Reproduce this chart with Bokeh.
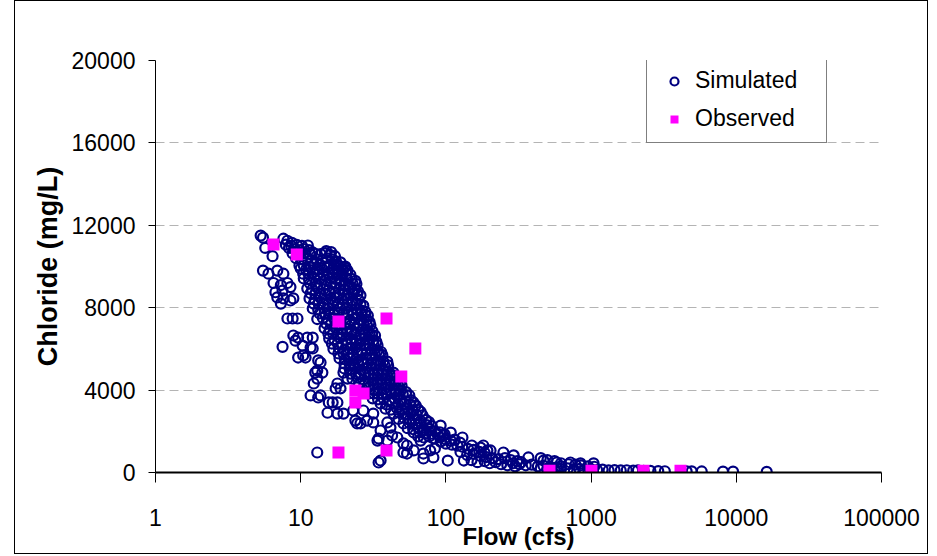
from bokeh.plotting import figure
from bokeh.models import FixedTicker, NumeralTickFormatter, Range1d, Legend, LegendItem
from bokeh.embed import file_html
from bokeh.resources import INLINE

# ---------------- data ----------------
x_ticks = [1, 10, 100, 1000, 10000, 100000]
y_ticks = [0, 4000, 8000, 12000, 16000, 20000]

# Simulated: lower / left branch
sim_flow_a = [5.3, 5.5, 5.7, 6.4, 5.5, 6.0, 6.9, 7.6, 6.5, 7.3, 8.1, 8.5, 6.7, 7.5, 6.9, 7.6, 8.5, 8.9,
              7.3, 8.1, 8.8, 9.5, 8.9, 9.6, 11.1, 12.1, 7.5, 9.2, 10.3, 11.7, 9.6, 10.8, 13.7, 13.0,
              14.1, 12.3, 17.9, 11.7, 13.7, 16.6, 15.3, 17.9, 19.7, 13.0, 35.5, 10.4, 12.1, 13.2, 12.6,
              13.0, 13.2, 15.6]
sim_cl_a = [11500, 11400, 10900, 10500, 9800, 9650, 9800, 9650, 9200, 9100, 9200, 9000, 8750, 8830,
            8500, 8450, 8350, 8450, 8200, 7475, 7475, 7475, 6650, 6550, 6550, 6550, 6100, 6400, 6160,
            6070, 5580, 5580, 5340, 4950, 4850, 4320, 4320, 3740, 3740, 3400, 2900, 2860, 2860, 970,
            580, 5680, 6020, 5440, 4850, 4560, 3640, 3400]

# Simulated: scattered points below the main band
sim_flow_b = [18.8, 17.9, 23.8, 25.8, 28.7, 31.6, 35.5, 34.4, 41.5, 39.5, 46.3, 51, 54, 60, 67, 70, 78,
              82, 17.4, 19.7, 22, 21, 24.5, 27, 23, 31.6, 39.5, 42.6, 33.8, 34.4, 51, 54, 70, 84, 103,
              133, 82]
sim_cl_b = [4080, 3400, 2520, 2380, 2520, 2430, 2040, 1650, 2180, 1550, 1700, 1410, 920, 1070, 1550,
            920, 1070, 730, 4080, 4850, 5190, 4560, 2380, 3010, 3010, 2860, 2430, 1800, 1550, 485,
            970, 1310, 680, 1165, 580, 580, 1650]

# Simulated: dense main band
sim_flow_c = [7.6, 8.1, 8.7,
              8.3, 9.0, 9.7, 10.5, 11.4, 12.0, 15, 16.2,
              9.3, 10.1, 11, 11.9, 12.9, 14, 15.2, 16.5, 17.5,
              10, 10.9, 11.8, 12.9, 14, 15.2, 16.5, 18, 19.5, 21,
              10.5, 11.4, 12.4, 13.5, 14.7, 16, 17.4, 19, 20.6, 22.4, 23.8,
              11.1, 12, 13.1, 14.3, 15.6, 17, 18.5, 20.1, 21.9, 23.8, 24.8,
              11.5, 12.5, 13.7, 14.9, 16.2, 17.7, 19.3, 21, 22.9, 25,
              12.1, 13.2, 14.4, 15.7, 17.1, 18.7, 20.4, 22.2, 24.2, 26.5, 27.9,
              13, 14.2, 15.5, 16.9, 18.4, 20, 21.8, 23.8, 26, 28.5, 29.8,
              14.6, 15.9, 17.3, 18.9, 20.6, 22.5, 24.5, 26.7, 29.1, 31.2,
              15.7, 17.1, 18.7, 20.4, 22.2, 24.2, 26.4, 28.8, 31.4, 33.2,
              16.8, 18.3, 20, 21.8, 23.8, 26, 28.3, 30.9, 33.7, 35.8,
              18.5, 20.2, 22, 24, 26.2, 28.6, 31.2, 34, 37, 39.5,
              20.0, 21.8, 23.8, 26, 28.4, 31, 33.8, 36.9, 40.3, 43.5,
              22.7, 24.8, 27, 29.5, 32.2, 35.1, 38.3, 41.8, 45.6, 48.7,
              26.6, 29, 31.6, 34.5, 37.6, 41, 44.7, 48.7, 53.2,
              31.3, 34.1, 37.2, 40.6, 44.3, 48.3, 52.7, 57.5, 59.8,
              38.4, 41.9, 45.7, 49.8, 54.3, 59.2, 64.6, 67,
              47.2, 51.5, 56.2, 61.3, 66.9, 73, 76.5,
              54.5, 59.5, 64.9, 70.8, 77.3, 84.3, 91,
              64.5, 70.4, 76.8, 83.8, 91.4, 99.7, 108]
sim_cl_c = [11350, 11250, 11150,
            10900, 10850, 10800, 10850, 10800, 10700, 10750, 10700,
            10400, 10350, 10400, 10300, 10350, 10300, 10400, 10350, 10250,
            9900, 9850, 9950, 9850, 9900, 9950, 9850, 9900, 9850, 9800,
            9420, 9380, 9450, 9400, 9350, 9450, 9400, 9350, 9450, 9400, 9300,
            8930, 8880, 8950, 8900, 8850, 8950, 8900, 8850, 8950, 8900, 8800,
            8450, 8400, 8480, 8400, 8450, 8500, 8400, 8450, 8350, 8400,
            7960, 7900, 8000, 7950, 7900, 8000, 7950, 7900, 7950, 7850, 7800,
            7450, 7500, 7400, 7480, 7420, 7500, 7400, 7450, 7380, 7420, 7300,
            7000, 6950, 7020, 6950, 7000, 6900, 7000, 6950, 6880, 6850,
            6500, 6450, 6550, 6450, 6500, 6420, 6500, 6450, 6400, 6350,
            6000, 6050, 5950, 6000, 6050, 5950, 6000, 5950, 5900, 5850,
            5550, 5500, 5550, 5500, 5450, 5500, 5550, 5450, 5400, 5380,
            5050, 5000, 5100, 5000, 5050, 5000, 4950, 5000, 4900, 4850,
            4550, 4600, 4500, 4600, 4550, 4500, 4550, 4450, 4450, 4400,
            4050, 4100, 4000, 4100, 4050, 4000, 3950, 4000, 3900,
            3600, 3550, 3600, 3500, 3600, 3500, 3450, 3500, 3400,
            3100, 3050, 3150, 3050, 3100, 3000, 3050, 2950,
            2600, 2650, 2550, 2600, 2500, 2550, 2450,
            2150, 2100, 2150, 2050, 2100, 2000, 1950,
            1750, 1700, 1750, 1650, 1700, 1600, 1550]

# Simulated: in-between points of the dense band
sim_flow_d = [10.5, 12.4, 14.6, 17, 19,
              10.4, 12.2, 14.3, 16.7, 19.3, 22,
              11.6, 13.7, 16.2, 18.8, 21.5, 24.2,
              11.7, 13.6, 15.9, 18.5, 21.4, 24.5,
              12.3, 14.3, 16.8, 19.5, 22.6, 25.8,
              13.5, 15.8, 18.3, 21.2, 24.5, 27.8,
              15, 17.5, 20.3, 23.4, 27, 30.2,
              16.7, 19.3, 22.4, 25.8, 29.7, 32.5,
              18, 20.8, 24, 27.6, 31.7,
              19.7, 22.8, 26.3, 30.2, 34.6,
              21.7, 25, 28.8, 33, 37.8,
              24, 27.6, 31.7, 36.4, 41.5,
              27.5, 31.6, 36.2, 41.3, 46.8,
              32, 36.5, 41.8, 47.5, 53.5]
sim_cl_d = [10050, 10100, 10000, 10100, 10000,
            9650, 9700, 9600, 9700, 9650, 9600,
            9180, 9150, 9200, 9150, 9100, 9150,
            8700, 8680, 8720, 8650, 8700, 8650,
            8200, 8180, 8220, 8150, 8200, 8150,
            7720, 7700, 7750, 7680, 7720, 7650,
            7230, 7200, 7250, 7180, 7230, 7150,
            6750, 6720, 6780, 6700, 6750, 6650,
            6260, 6230, 6280, 6200, 6250,
            5780, 5750, 5800, 5720, 5780,
            5290, 5250, 5300, 5250, 5200,
            4800, 4780, 4820, 4750, 4700,
            4320, 4300, 4340, 4280, 4250,
            3840, 3820, 3860, 3800, 3750]

# Simulated: more points packed inside the dense band
sim_flow_f = [9.8, 11.4, 13.5, 15.8, 18, 20,
              11.3, 13.2, 15.5, 18, 20.6,
              12.6, 14.9, 17.5, 20.1, 22.8,
              12.6, 14.7, 17.2, 19.9, 23, 25.8,
              13.3, 15.5, 18.1, 21, 24.2, 27,
              14.6, 17, 19.7, 22.8, 26.1, 29,
              16.2, 18.9, 21.8, 25.2, 28.6,
              15.5, 18, 20.8, 24, 27.7, 31,
              16.4, 19.4, 22.4, 25.8, 29.6, 33.8,
              18.2, 21.2, 24.5, 28.2, 32.4, 36.5,
              20, 23.3, 26.9, 30.9, 35.3, 40,
              22, 25.8, 29.6, 34, 38.9, 44,
              25.2, 29.5, 33.9, 38.7, 44, 49.5,
              29.5, 34.2, 39.1, 44.6, 50.5, 56,
              7.9, 8.6, 9.4, 10.2, 11.2,
              8.8, 9.7, 10.6, 11.6, 12.6, 13.7, 14.8, 16, 17.2,
              18.8, 20.3,
              35.5, 39, 42.8, 47, 51.5, 56.5, 62,
              43.6, 47.8, 52.4, 57.4, 63, 69,
              51, 56, 61.4, 67.3, 73.8, 80,
              60, 66, 72.6, 79.8, 87.7, 96]
sim_cl_f = [10050, 10000, 10080, 10020, 10050, 9950,
            9660, 9620, 9680, 9600, 9650,
            9170, 9140, 9190, 9130, 9160,
            8690, 8660, 8700, 8650, 8680, 8600,
            8200, 8170, 8210, 8160, 8190, 8100,
            7720, 7690, 7730, 7680, 7700, 7620,
            7230, 7200, 7250, 7190, 7160,
            6750, 6710, 6760, 6700, 6720, 6650,
            6260, 6220, 6270, 6210, 6240, 6180,
            5780, 5740, 5790, 5730, 5760, 5700,
            5290, 5250, 5300, 5240, 5260, 5200,
            4800, 4770, 4810, 4750, 4760, 4700,
            4320, 4290, 4330, 4270, 4280, 4220,
            3840, 3810, 3850, 3790, 3800, 3740,
            11060, 11000, 11050, 11000, 11020,
            10630, 10600, 10650, 10600, 10620, 10600, 10650, 10550, 10500,
            10200, 10000,
            3350, 3300, 3380, 3300, 3350, 3280, 3250,
            2860, 2900, 2830, 2880, 2800, 2780,
            2380, 2400, 2350, 2380, 2300, 2250,
            1940, 1950, 1900, 1880, 1850, 1800]

# Simulated: tail toward high flows
sim_flow_e = [92, 100, 110, 120, 130, 142, 155, 170, 185,
              126, 140, 155, 173, 190, 208, 230, 255, 280, 310, 330,
              290, 320, 355, 390, 430, 470, 520, 580, 620,
              150, 165, 185, 200, 220, 240, 265, 300,
              450, 500, 560, 620, 690, 760, 830, 900, 1000, 1100, 1200, 1320, 1450, 1600, 1760,
              1950, 2100, 2300,
              450, 500, 560, 620, 700, 780, 850, 950, 1050,
              92, 108, 130, 151, 173, 193, 181, 203, 249, 293, 370, 470, 580, 720, 845, 1040,
              98, 115, 125,
              2560, 2900, 3220, 4550, 4930, 5780, 8100, 9500, 16200]
sim_cl_e = [1500, 1400, 1350, 1300, 1250, 1150, 1100, 1000, 950,
            1000, 850, 900, 800, 750, 700, 650, 700, 600, 550, 500,
            450, 400, 350, 380, 300, 330, 280, 250, 300,
            600, 500, 550, 450, 500, 400, 350, 300,
            200, 150, 180, 160, 200, 150, 180, 120, 150, 120, 140, 100, 120, 100, 110,
            90, 100, 80,
            700, 600, 550, 450, 400, 380, 350, 300, 280,
            2280, 1940, 1700, 1310, 1210, 1070, 1310, 1070, 970, 830, 730, 580, 485, 485, 440, 440,
            1850, 1600, 1450,
            80, 70, 60, 60, 55, 50, 45, 40, 30]

# Observed
obs_flow = [6.5, 9.4, 18.2, 39, 61.6, 49.3, 23.8, 27.1, 23.8, 18.2, 39, 517, 1006, 2296, 4128]
obs_cl = [11070, 10580, 7330, 7475, 6020, 4660, 3980, 3835, 3400, 970, 1070, 80, 80, 80, 80]

sim_flow = sim_flow_a + sim_flow_b + sim_flow_c + sim_flow_d + sim_flow_f + sim_flow_e
sim_cl = sim_cl_a + sim_cl_b + sim_cl_c + sim_cl_d + sim_cl_f + sim_cl_e

# ---------------- figure ----------------
FONT = "Liberation Sans"
p = figure(width=914, height=554, x_axis_type="log",
           x_range=Range1d(1, 100000), y_range=Range1d(0, 20000),
           output_backend="svg", toolbar_location=None,
           min_border_left=140, min_border_right=48, min_border_top=59, min_border_bottom=83)
p.margin = (0, 0, 0, 14)
p.styles = {"border": "1px solid #000000"}
p.outline_line_color = None
p.background_fill_color = "white"
p.border_fill_color = "white"

# grid
p.xgrid.visible = False
p.ygrid.grid_line_color = "#b4b4b4"
p.ygrid.grid_line_dash = "9 5"
p.ygrid.grid_line_width = 1

# x axis
p.xaxis.ticker = FixedTicker(ticks=x_ticks)
p.xaxis.formatter = NumeralTickFormatter(format="0")
p.xaxis.axis_label = "Flow (cfs)"
p.xaxis.axis_line_width = 2
p.xaxis.axis_line_color = "black"
p.xaxis.major_tick_out = 10
p.xaxis.major_tick_in = 0
p.xaxis.minor_tick_line_color = None
p.xaxis.major_tick_line_color = "black"
p.xaxis.major_label_standoff = 26
p.xaxis.axis_label_standoff = -6

# y axis
p.yaxis.ticker = FixedTicker(ticks=y_ticks)
p.yaxis.formatter = NumeralTickFormatter(format="0")
p.yaxis.axis_label = "Chloride (mg/L)"
p.yaxis.axis_line_width = 1
p.yaxis.axis_line_color = "black"
p.yaxis.major_tick_out = 7
p.yaxis.major_tick_in = 0
p.yaxis.minor_tick_line_color = None
p.yaxis.major_tick_line_color = "black"
p.yaxis.major_label_standoff = 13
p.yaxis.axis_label_standoff = 6

for ax in (p.xaxis, p.yaxis):
    ax.major_label_text_font = FONT
    ax.major_label_text_font_size = "23px"
    ax.major_label_text_color = "black"
    ax.axis_label_text_font = FONT
    ax.axis_label_text_font_style = "bold"
    ax.axis_label_text_color = "black"
p.xaxis.axis_label_text_font_size = "24px"
p.yaxis.axis_label_text_font_size = "27px"

sim = p.scatter(sim_flow, sim_cl, marker="circle", size=10, line_color="#000080",
                fill_color=None, line_width=2.2)
obs = p.scatter(obs_flow, obs_cl, marker="square", size=12, line_color=None,
                fill_color="#FF00FF")

legend = Legend(items=[LegendItem(label="Simulated", renderers=[sim]),
                       LegendItem(label="Observed", renderers=[obs])],
                location=(491, 329))
legend.label_text_font = FONT
legend.label_text_font_size = "23px"
legend.label_text_color = "black"
legend.border_line_color = "black"
legend.border_line_width = 1
legend.background_fill_color = "white"
legend.background_fill_alpha = 1
legend.padding = 10
legend.spacing = 11
legend.glyph_height = 20
legend.glyph_width = 34
legend.label_standoff = 4
legend.label_width = 121
legend.label_height = 26
legend.margin = 0
p.add_layout(legend)

open("out.html", "w").write(file_html(p, INLINE))
